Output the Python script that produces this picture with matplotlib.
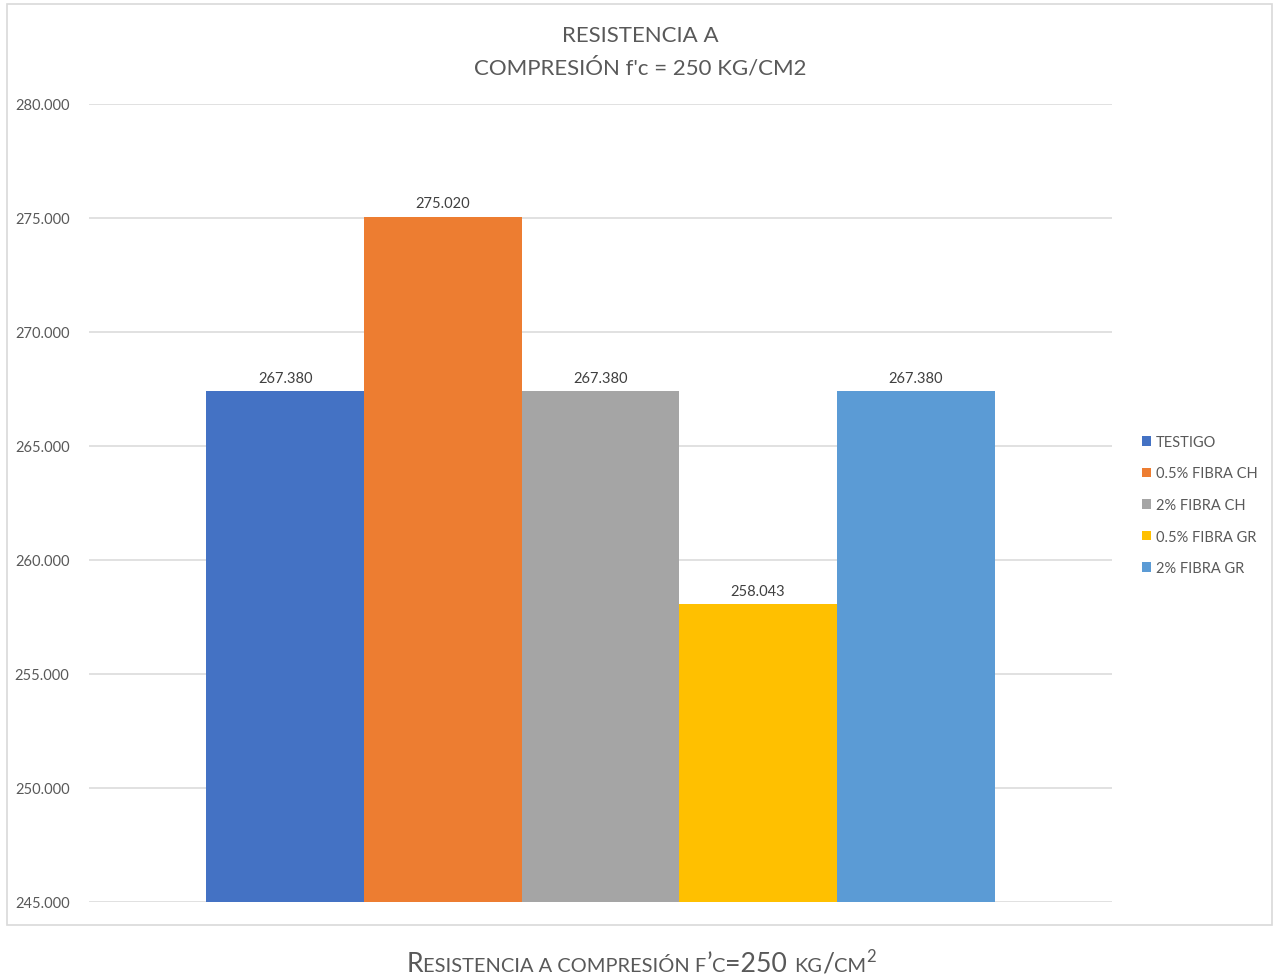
import matplotlib
matplotlib.use("Agg")
import matplotlib.pyplot as plt
from matplotlib.patches import Rectangle
import numpy as np

plt.rcParams['font.family'] = ['Lato', 'DejaVu Sans']

series = ["TESTIGO", "0.5% FIBRA CH", "2% FIBRA CH", "0.5% FIBRA GR", "2% FIBRA GR"]
values = [267.380, 275.020, 267.380, 258.043, 267.380]
colors = ["#4472C4", "#ED7D31", "#A5A5A5", "#FFC000", "#5B9BD5"]
yticks = [245, 250, 255, 260, 265, 270, 275, 280]

W, H = 1275, 979
fig = plt.figure(figsize=(W / 100, H / 100), dpi=100)
ax = fig.add_axes([89 / W, 1 - 903 / H, (1112 - 89) / W, (903 - 104.5) / H])

# chart border
fig.patches.append(Rectangle((7 / W, 1 - 926 / H), (1272 - 7) / W, (926 - 5) / H,
                             transform=fig.transFigure, fill=False,
                             edgecolor="#D9D9D9", lw=1.2))

x = np.arange(len(values))
bars = []
for i, v in enumerate(values):
    b = ax.bar(x[i], v - 245, bottom=245, width=1.0, color=colors[i], label=series[i], zorder=3)
    bars.append(b)
    ax.text(x[i], v + 0.3, f"{v:.3f}", ha="center", va="bottom", fontsize=10.5, color="#404040")

m = 0.745
ax.set_xlim(-0.5 - m, 4.5 + m)
ax.set_ylim(245, 280)
ax.set_yticks(yticks)
ax.set_yticklabels([f"{t:.3f}" for t in yticks])
ax.set_xticks([])
ax.tick_params(axis="y", length=0, pad=14, labelsize=10.5, labelcolor="#595959")
ax.grid(axis="y", color="#D9D9D9", lw=1.1, zorder=0)
for s in ax.spines.values():
    s.set_visible(False)

fig.text(640 / W, 1 - 36 / H, "RESISTENCIA A", ha="center", va="center", fontsize=16, color="#595959")
fig.text(640 / W, 1 - 68 / H, "COMPRESIÓN f'c = 250 KG/CM2", ha="center", va="center", fontsize=16, color="#595959")

fig.legend(handles=[b[0] for b in bars], labels=series, loc="center left",
           bbox_to_anchor=(1142 / W, 1 - 506 / H), frameon=False, fontsize=10.5,
           labelcolor="#595959", handlelength=0.65, handleheight=0.65,
           handletextpad=0.3, labelspacing=1.2, borderpad=0, borderaxespad=0)

# caption in small caps, built piece by piece
big, small = 19.2, 14.4
pieces = [("R", big, 0), ("ESISTENCIA A COMPRESIÓN F", small, 0), ("’", big, 0),
          ("C", small, 0), ("=250 ", big, 0), ("KG", small, 0), ("/", big, 0),
          ("CM", small, 0), ("2", 12, 10)]
fig.canvas.draw()
r = fig.canvas.get_renderer()
texts = []
total = 0
for s, fs, dy in pieces:
    t = fig.text(0, 0, s, fontsize=fs, color="#595959", va="baseline")
    w = t.get_window_extent(r).width
    texts.append((t, w, dy))
    total += w
xpos = 641 - total / 2
base = H - 972
for t, w, dy in texts:
    t.set_position((xpos / W, (base + dy) / H))
    xpos += w

fig.savefig("out.png", dpi=100)
